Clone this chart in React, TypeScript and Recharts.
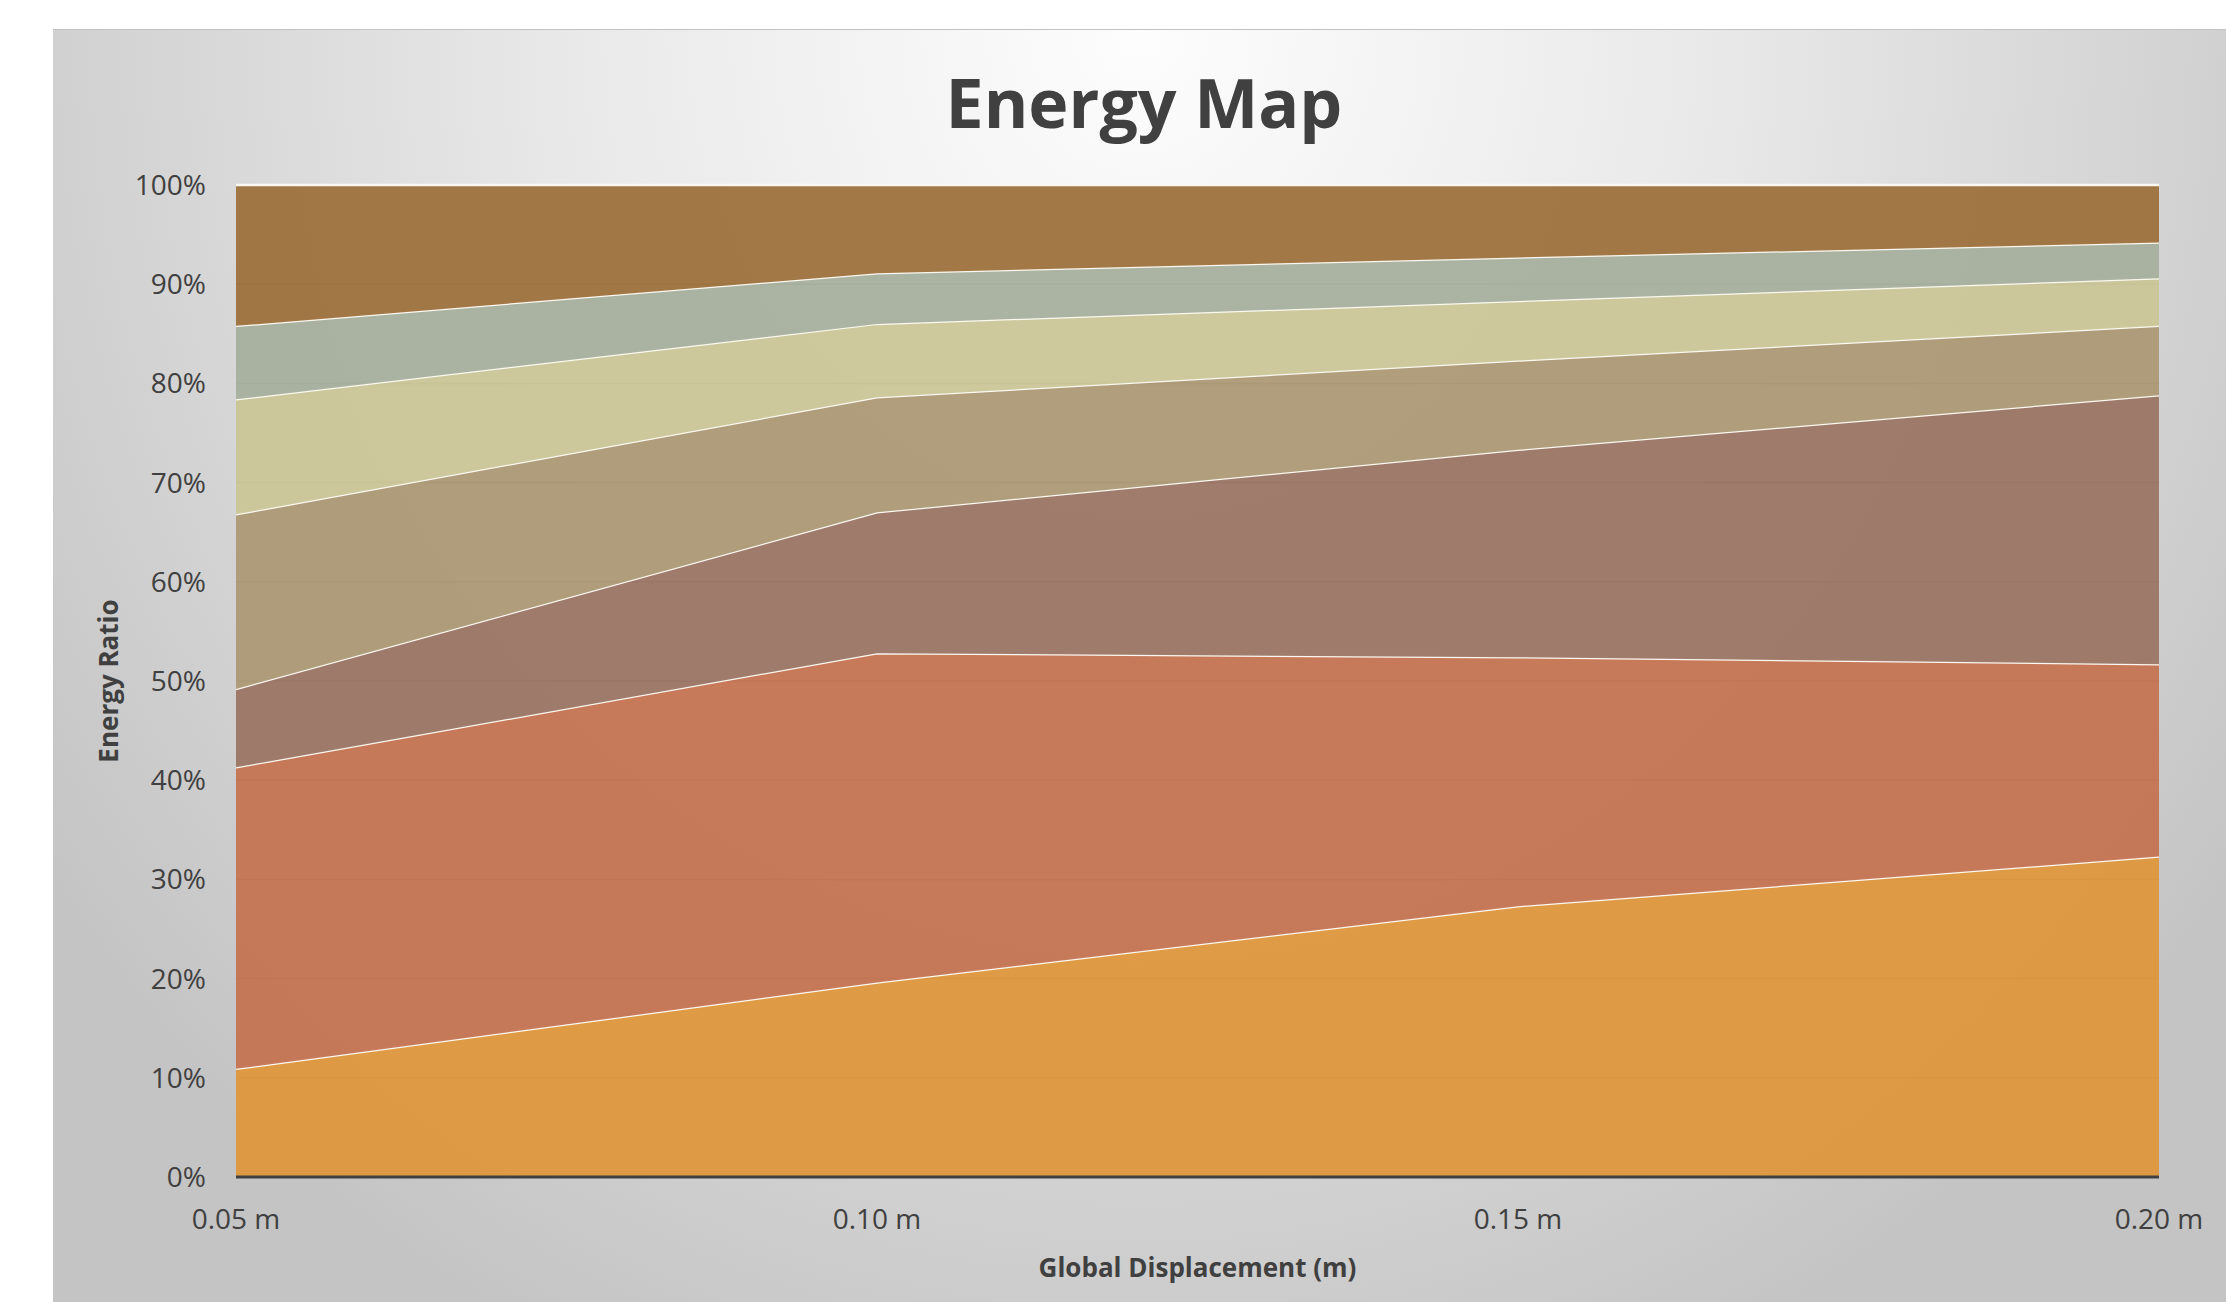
import React from "react";
import { AreaChart, Area, XAxis, YAxis, CartesianGrid } from "recharts";

// displacement steps on the x axis
const displacement = ["0.05 m", "0.10 m", "0.15 m", "0.20 m"];

// share of each energy band (%) at each displacement, bottom band first
const band1 = [10.9, 19.6, 27.3, 32.3];
const band2 = [30.4, 33.2, 25.1, 19.4];
const band3 = [7.9, 14.2, 20.9, 27.1];
const band4 = [17.6, 11.6, 9.0, 7.0];
const band5 = [11.6, 7.4, 6.0, 4.8];
const band6 = [7.4, 5.1, 4.4, 3.6];
const band7 = [14.2, 8.9, 7.3, 5.8];

const yTicks = [0, 0.1, 0.2, 0.3, 0.4, 0.5, 0.6, 0.7, 0.8, 0.9, 1];

const bands = [
  { key: "band1", values: band1, color: "#DF973D" },
  { key: "band2", values: band2, color: "#C57452" },
  { key: "band3", values: band3, color: "#9B7564" },
  { key: "band4", values: band4, color: "#AC9975" },
  { key: "band5", values: band5, color: "#CAC698" },
  { key: "band6", values: band6, color: "#A7B09D" },
  { key: "band7", values: band7, color: "#9E713D" },
];

const data = displacement.map((d, i) => {
  const row: Record<string, string | number> = { disp: d };
  bands.forEach((b) => (row[b.key] = b.values[i]));
  return row;
});

const FONT = "'Open Sans', 'Noto Sans', sans-serif";
const INK = "#404040";

function YTitle(props: any) {
  const vb = props.viewBox || { y: 185, height: 992 };
  const cx = 108;
  const cy = vb.y + vb.height / 2;
  return (
    <text
      x={cx}
      y={cy}
      transform={`rotate(-90, ${cx}, ${cy})`}
      textAnchor="middle"
      dominantBaseline="central"
      fill={INK}
      fontFamily={FONT}
      fontWeight={700}
      fontSize={26}
    >
      Energy Ratio
    </text>
  );
}

export default function App() {
  return (
    <div style={{ position: "absolute", left: 0, top: 0, width: 2226, height: 1302, background: "#fff", overflow: "hidden" }}>
      <div
        style={{
          position: "absolute",
          left: 53,
          top: 29,
          width: 2173,
          height: 1273,
          borderTop: "1px solid #c2c2c2",
          background: "radial-gradient(ellipse 62% 115% at 50% 0%, #fdfdfd 0%, #e9e9e9 42%, #c4c4c4 100%)",
        }}
      />
      <div
        style={{
          position: "absolute",
          left: 1144,
          top: 68,
          transform: "translateX(-50%)",
          fontFamily: FONT,
          fontWeight: 700,
          fontSize: 68,
          lineHeight: 1,
          color: INK,
          whiteSpace: "nowrap",
        }}
      >
        Energy Map
      </div>
      <div style={{ position: "absolute", left: 0, top: 0 }}>
        <AreaChart
          width={2226}
          height={1302}
          data={data}
          stackOffset="expand"
          margin={{ top: 185, right: 67, bottom: 0, left: 0 }}
        >
          <CartesianGrid vertical={false} stroke="#808080" strokeWidth={1.5} />
          <XAxis
            dataKey="disp"
            height={125}
            tickSize={0}
            tickMargin={32}
            axisLine={{ stroke: INK, strokeWidth: 3 }}
            tick={{ fill: INK, fontSize: 28, fontFamily: FONT }}
            interval={0}
            label={{
              value: "Global Displacement (m)",
              position: "insideBottom",
              offset: 25,
              style: { fill: INK, fontSize: 26, fontWeight: 700, fontFamily: FONT },
            }}
          />
          <YAxis
            width={236}
            domain={[0, 1]}
            ticks={yTicks}
            tickSize={0}
            tickMargin={30}
            axisLine={false}
            tickFormatter={(v: number) => `${Math.round(v * 100)}%`}
            tick={{ fill: INK, fontSize: 28, fontFamily: FONT }}
            label={<YTitle />}
          />
          {bands.map((b) => (
            <Area
              key={b.key}
              type="linear"
              dataKey={b.key}
              stackId="1"
              fill={b.color}
              fillOpacity={0.95}
              stroke="#fbf8f1"
              strokeWidth={2.5}
              isAnimationActive={false}
            />
          ))}
        </AreaChart>
      </div>
    </div>
  );
}
